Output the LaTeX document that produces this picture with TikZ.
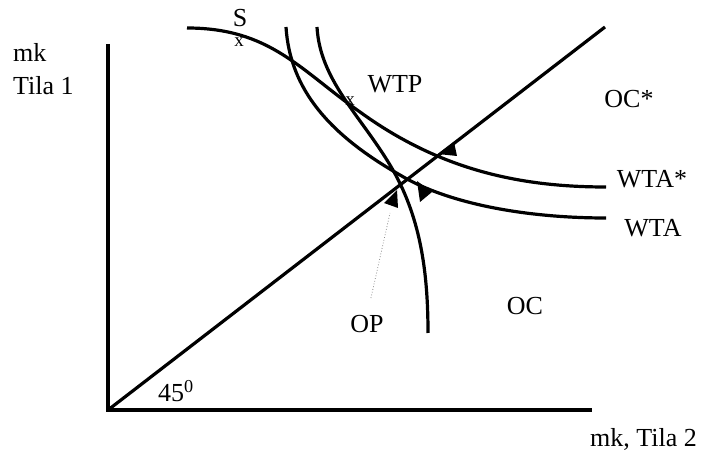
\documentclass[tikz,border=0pt]{standalone}
\usepackage{fontspec}
\setmainfont{Liberation Serif}
\usetikzlibrary{positioning}
\tikzset{
  akseli/.style={line width=3.2pt},
  kayra/.style={line width=3.2pt},
  nimi/.style={font=\fontsize{26}{33}\selectfont,inner sep=0pt,anchor=base},
  rasti/.style={font=\fontsize{19}{20}\selectfont,inner sep=0pt},
  kolmio/.style={fill=black},
  osoitin/.style={dotted,line width=0.8pt,black!45},
}
\begin{document}
\begin{tikzpicture}[x=1pt,y=-1pt]
  \useasboundingbox (0,0) rectangle (705,454);
  % akselit ja 45 asteen suora
  \coordinate (O) at (108,410);
  \coordinate (ytop) at (108,44);
  \coordinate (xend) at (592,410);
  \coordinate (dend) at (605,27);
  \draw[akseli] (ytop) -- (O) -- (xend);
  \draw[akseli] (O) -- (dend);
  % kayrat: WTA*, WTA, OC
  \draw[kayra] (187,28) .. controls (270,28) and (300,70) .. (360,112)
               .. controls (440,170) and (520,187) .. (606,187);
  \draw[kayra] (286,27) .. controls (290,90) and (330,135) .. (400,175)
               .. controls (450,205) and (530,218) .. (606,218);
  \draw[kayra] (317,27) .. controls (320,80) and (360,115) .. (390,165)
               .. controls (420,215) and (428,270) .. (428,333);
  % kolmiot
  \fill[kolmio] (438,154) -- (454,142) -- (457,156) -- cycle;
  \fill[kolmio] (417,181) -- (432,192) -- (420,202) -- cycle;
  \fill[kolmio] (384,203) -- (397,190) -- (398,208) -- cycle;
  % rastit
  \node[rasti] (xS) at (239,42) {x};
  \node[rasti] (xWTP) at (350,101) {x};
  % tekstit
  \node[nimi] (S) at (240,27) {S};
  \node[nimi] (WTP) at (395,93) {WTP};
  \node[nimi] (OCt) at (629,108) {OC*};
  \node[nimi] (WTAt) at (652,188) {WTA*};
  \node[nimi] (WTA) at (653,237) {WTA};
  \node[nimi] (OC) at (525,315) {OC};
  \node[nimi] (OP) at (367,333) {OP};
  \node[nimi,anchor=base west] (kulma) at (158,402) {45\textsuperscript{0}};
  \node[nimi,anchor=base west] (ymk) at (13,62) {mk};
  \node[nimi,anchor=base west] (ytila) at (13,95) {Tila 1};
  \node[nimi,anchor=base west] (xlab) at (590,447) {mk, Tila 2};
  % OP osoitin
  \coordinate (opkarki) at (390,213);
  \draw[osoitin,shorten <=18pt] (OP.north) -- (opkarki);
\end{tikzpicture}
\end{document}
